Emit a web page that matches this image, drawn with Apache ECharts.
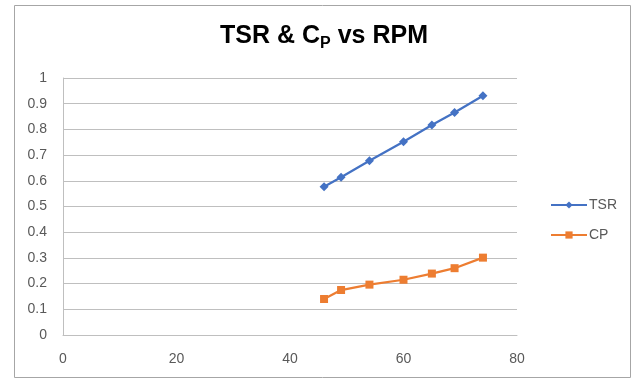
<!DOCTYPE html>
<html>
<head>
<meta charset="utf-8">
<script src="https://cdn.jsdelivr.net/npm/echarts@6/dist/echarts.min.js"></script>
<style>
  html, body { margin: 0; padding: 0; background: #fff; }
  #chart { width: 636px; height: 379px; }
</style>
</head>
<body>
<div id="chart"></div>
<script>
// 数据
const rpm = [46, 49, 54, 60, 65, 69, 74];
const tsr = [0.577, 0.614, 0.678, 0.752, 0.817, 0.866, 0.931];
const cp = [0.140, 0.175, 0.196, 0.215, 0.239, 0.260, 0.301];

const labelColor = '#595959';
const font = 'Liberation Sans';

function pairs(xs, ys) {
    return xs.map((x, i) => [x, ys[i]]);
}

// 标题: "TSR & C" + 下标 "P" + " vs RPM"
function titleParts() {
    const parts = [
        { text: 'TSR & C', size: 25, dy: 0 },
        { text: 'P', size: 16, dy: 8 },
        { text: ' vs RPM', size: 25, dy: 0 }
    ];
    const ctx = document.createElement('canvas').getContext('2d');
    parts.forEach(p => {
        ctx.font = `bold ${p.size}px "${font}"`;
        p.w = ctx.measureText(p.text).width;
    });
    const total = parts.reduce((s, p) => s + p.w, 0);
    let x = 324 - total / 2;
    return parts.map(p => {
        const el = {
            type: 'text',
            x: x,
            y: 36 + p.dy,
            silent: true,
            style: {
                text: p.text,
                fontSize: p.size,
                fontWeight: 'bold',
                fontFamily: font,
                fill: '#000',
                verticalAlign: 'middle'
            }
        };
        x += p.w;
        return el;
    });
}

let chart = echarts.init(document.getElementById('chart'));
chart.setOption({
    animation: false,
    textStyle: { fontFamily: font },
    graphic: [{
        type: 'rect',
        shape: { x: 14.5, y: 5.5, width: 616, height: 372 },
        style: { fill: 'none', stroke: '#a6a6a6', lineWidth: 1 },
        silent: true
    }].concat(titleParts()),
    grid: { left: 63, right: 119, top: 78, bottom: 44 },
    legend: {
        orient: 'vertical',
        left: 545,
        top: 193,
        itemWidth: 36,
        itemHeight: 9,
        itemGap: 16,
        textStyle: { color: labelColor, fontSize: 14, padding: [0, 0, 0, -3] },
        data: ['TSR', 'CP']
    },
    xAxis: {
        type: 'value',
        min: 0,
        max: 80,
        interval: 20,
        axisLine: { show: true, lineStyle: { color: '#bfbfbf' } },
        axisTick: { show: false },
        splitLine: { show: false },
        axisLabel: { color: labelColor, fontSize: 14, margin: 17 }
    },
    yAxis: {
        type: 'value',
        min: 0,
        max: 1,
        interval: 0.1,
        axisLine: { show: true, lineStyle: { color: '#bfbfbf' } },
        axisTick: { show: false },
        splitLine: { lineStyle: { color: '#bfbfbf' } },
        axisLabel: { color: labelColor, fontSize: 14, margin: 16, formatter: v => String(+v.toFixed(1)) }
    },
    series: [{
        name: 'TSR',
        type: 'line',
        data: pairs(rpm, tsr),
        symbol: 'diamond',
        symbolSize: 9,
        lineStyle: { color: '#4472C4', width: 2.25 },
        itemStyle: { color: '#4472C4' }
    }, {
        name: 'CP',
        type: 'line',
        data: pairs(rpm, cp),
        symbol: 'rect',
        symbolSize: 8,
        lineStyle: { color: '#ED7D31', width: 2.25 },
        itemStyle: { color: '#ED7D31' }
    }]
});
</script>
</body>
</html>
